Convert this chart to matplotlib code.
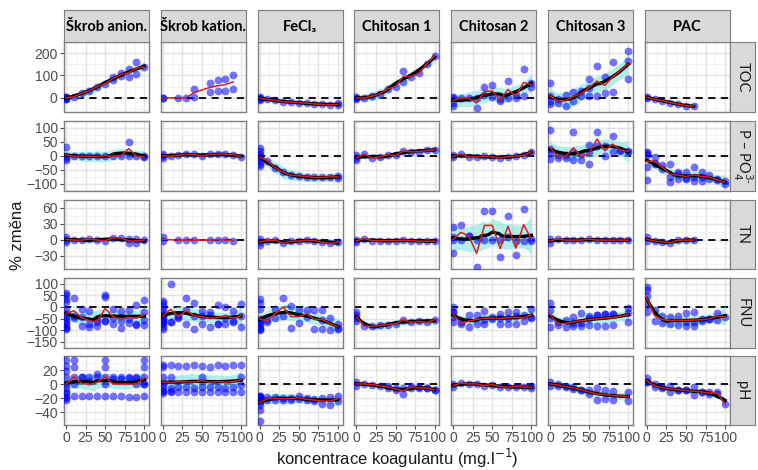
import numpy as np
import matplotlib
matplotlib.use("Agg")
import matplotlib.pyplot as plt

# concentration levels (mg/l), every panel uses the same grid
levels = [0, 10, 20, 30, 40, 50, 60, 70, 80, 90, 100]

coagulants = ["Škrob anion.", "Škrob kation.", "FeCl₃", "Chitosan 1",
              "Chitosan 2", "Chitosan 3", "PAC"]
params = ["TOC", r"P – PO$_4^{3\text{-}}$", "TN", "FNU", "pH"]

# % change values, one list per concentration level
toc = {
    "Škrob anion.": [[0, -5, 4, -8, 5], [4], [20], [32], [50], [62], [95, 78],
                     [112, 96], [130, 93], [158, 108], [138]],
    "Škrob kation.": [[0, -3], [], [0], [0], [41, 5], [], [66, 26], [78, 29],
                      [85, 32], [103, 40], []],
    "FeCl₃": [[5, -5, 0, -10], [-8], [-12], [-18], [-20], [-22], [-25], [-28],
              [-30], [-32], [-35, -25]],
    "Chitosan 1": [[0, -5, 5], [-2], [7], [17], [40], [50], [120, 72], [94],
                   [109], [152], [188]],
    "Chitosan 2": [[0, -22, -36, 5], [0], [-3], [-48, 0], [46, 10], [55, 5],
                   [-14, -8], [77, -3], [0, 10], [130, 7], [65, 50]],
    "Chitosan 3": [[65, 7, -14, -29], [-22, -5], [-36, 10], [26, -14], [7, 30],
                   [84, 45, 9], [142, 7], [91, 19], [160, 26], [], [208, 165, 82]],
    "PAC": [[0, 3], [-7], [-14], [-22], [-29], [-36], [-38], [], [], [], []],
}

p_po4 = {
    "Škrob anion.": [[33, 0, -14, -7], [-2], [-2], [-2], [-2], [0], [-2], [-1],
                     [51, 0], [-2], [-2, -6]],
    "Škrob kation.": [[8, -8, 0], [-2], [2], [5], [5], [-2], [5], [6], [6], [4], [-4]],
    "FeCl₃": [[28, 18, 8, 0, -8, -18, -28, -36], [-18], [-43], [-59], [-70], [-72],
              [-75], [-78], [-78], [-76], [-73, -80]],
    "Chitosan 1": [[1, -8, -15], [6], [-8], [-4], [3], [1], [17], [14], [15], [19], [22]],
    "Chitosan 2": [[1, -4], [6], [-4], [-4], [-1], [-4], [-8], [-4], [-1], [1], [14]],
    "Chitosan 3": [[93, 24, 10, -12], [-8, 2], [-9, 3], [86, -14, 15], [-14, 8],
                   [-31, 40, 15], [84, 36], [0, 36], [70, 14], [18, 22], [18, 14]],
    "PAC": [[2, -41, -87, 15, 10], [-3, -25, -30], [-47, -35], [-96, -75, -30],
            [-64, -85, -60], [-59, -85, -80], [-41, -75, -90], [-59, -75, -90],
            [-69, -85], [-85, -88], [-91, -100]],
}

tn = {
    "Škrob anion.": [[5, 0, -4], [-1], [-1], [1], [-1], [-2], [3], [3], [1, -6],
                     [1, -6], [-1]],
    "Škrob kation.": [[4, -3], [], [-1], [-1], [-1], [], [-1], [0], [-1], [-2], []],
    "FeCl₃": [[1, -4, -10], [-2], [-1], [-7], [-3], [-3], [-1], [-2], [-5], [-7], [-5]],
    "Chitosan 1": [[0, -5], [2], [-2], [-2], [-2], [-2], [-1], [-2], [-3], [-3], [-3]],
    "Chitosan 2": [[23, 0, -26, 5], [27, 0], [7, 7], [-52, 0], [53, 0], [53, 0],
                   [-33, -1], [45, 5], [-29, -3], [58, -2], [2, -2]],
    "Chitosan 3": [[1, -6], [1], [-1], [-1], [-1], [1], [-1], [-1], [-1], [-1], [-1]],
    "PAC": [[4, -2], [-3], [-4], [-6], [-1], [-1], [-1], [], [], [], []],
}

fnu = {
    "Škrob anion.": [[60, 50, 35, 20, -10, -30, -45, -55, -65, -75, -85, -90, -95],
                     [38, -46, -40], [-10, -84, -45], [-73, -16, -88], [-84, -50, -64],
                     [53, 44, -59, -62], [-8, -46, -72], [-90, -16, -60],
                     [-14, -71, -50], [9, -73, -80], [28, -23, -80, -57]],
    "Škrob kation.": [[25, 15, 5, -10, -25, -40, -55, -65, -75, -85, -93, -60, -50, -35],
                      [100, -66, -64], [-42, -35, -49], [37, -73, -12], [18, -93, -39],
                      [-16, -73, -37], [-23, -86, -35], [9, -73, -74], [0, -73, -47],
                      [-16, -66, -62], [13, -86, -41]],
    "FeCl₃": [[34, 15, -10, -54, -96, -100, -80, -70, -60, -90], [-67, -55],
              [-10, -48], [38, -38], [6, -90], [-71, -13], [-13, -45], [-93, -15],
              [-13, -93, -56], [-99, -47], [-73, -96, -89]],
    "Chitosan 1": [[-23, -35, -48, -62], [-82], [-84], [-80], [-76], [-73], [-55],
                   [-67], [-62], [-67], [-55]],
    "Chitosan 2": [[-1, -23, -42, -67, -20], [-67, -75], [-35, -87], [-73, -35],
                   [-16, -73, -55], [-54, -42], [-74, -46, -30], [-74, -46, -20],
                   [-74, -39, -20], [-61, -33], [-10, -46, -45]],
    "Chitosan 3": [[15, -13, -46, -88], [-80, -66], [-86, -56], [-84, -42, -69],
                   [-25, -84, -68], [-38, -80, -47], [-33, -84, -36], [-29, -84, -31],
                   [-29, -80, -29], [], [-4, -67, -28]],
    "PAC": [[85, 72, 47, -23, 10], [-61, -15], [-40, -70], [-42, -74], [-38, -76],
            [-25, -84, -65], [-21, -84, -65], [-50, -60], [-52, -50], [-25, -55], [-42]],
}

ph = {
    "Škrob anion.": [[35, 26, 19, 10, 0, -5, -11, -18, -22, -20, -12], [35, 25, 10, -16, 0],
                     [10, -16, 10], [10, -16, 5], [10, -16, 15], [35, 25, 10, 0, -16],
                     [10, -17, 8], [10, -17, 8], [10, -18, 9], [10, 0, -18, 9],
                     [35, 25, 10, 0, -16, 0]],
    "Škrob kation.": [[27, 24, 10, 0, -4, -9, -13, -10], [27, 10, -9, -11, -5],
                      [26, -4, -11], [26, -4, -11], [27, -6, -11], [26, 10, -4, -11],
                      [24, -4, -11], [27, -4, -11], [26, -6, -11], [27, -4, -11],
                      [27, 10, -1, -11]],
    "FeCl₃": [[-16, -20, -25, -30, -37, -53, -16, -18, -20], [-18, -23], [-18, -22],
              [-19, -22], [-19, -22], [-17, -21], [-20, -23], [-21, -24], [-20, -28],
              [-18, -30], [-17, -24]],
    "Chitosan 1": [[3, -2], [0.5], [-0.5], [-2], [-5, -3], [-5, -8], [-14.5, -5],
                   [-5, -3], [-4, -6], [-5, -6], [-8, -8]],
    "Chitosan 2": [[0.5, -4], [1.4], [0.5], [0.5], [-2], [-0.5], [-3.3], [-4], [-3.3],
                   [-4], [-2, -6]],
    "Chitosan 3": [[3, -2], [0.5, -2.5], [-4, -3], [-6.5, -4], [-8, -8], [-13.5, -8.5],
                   [-23, -5], [-20.5, -8], [-23, -9], [], [-11, -24]],
    "PAC": [[9.5, 2.8, 3], [0.5, -4.5], [-4.2, -6], [-2, -11], [-8, -8], [-8.8, -8.8],
            [-4, -15.9], [-11, -11], [-11.2, -13.8], [-14.5, -10.5], [-28.4]],
}

rows = [toc, p_po4, tn, fnu, ph]
ylims = [(-62, 239), (-124, 103), (-55, 63), (-151, 112), (-58, 41)]
yticks = [[0, 100, 200], [-100, -50, 0, 50, 100], [-30, 0, 30, 60],
          [-150, -100, -50, 0, 50, 100], [-40, -20, 0, 20]]
# panels where the smoother did not come out
no_smooth = {(0, 1), (2, 1)}


def loess(x, y, grid, span=0.75):
    # local quadratic fit with tricube weights, like geom_smooth(method="loess")
    n = len(x)
    q = max(int(np.floor(n * span)), 3)

    def weights_row(x0):
        d = np.abs(x - x0)
        h = np.sort(d)[q - 1]
        h = max(h, 1e-9) * 1.0001
        w = np.clip(1 - (d / h) ** 3, 0, None) ** 3
        X = np.column_stack([np.ones(n), x - x0, (x - x0) ** 2])
        XtW = X.T * w
        A = XtW @ X
        return np.linalg.pinv(A)[0] @ XtW

    L = np.array([weights_row(xi) for xi in x])
    res = y - L @ y
    IL = np.eye(n) - L
    delta1 = np.trace(IL.T @ IL)
    sigma2 = np.sum(res ** 2) / max(delta1, 1)
    Lg = np.array([weights_row(g) for g in grid])
    fit = Lg @ y
    se = np.sqrt(sigma2 * np.sum(Lg ** 2, axis=1))
    return fit, se


W, H = 758, 470
fig = plt.figure(figsize=(W / 100, H / 100), dpi=100)

col_left = [64 + 96.8 * c for c in range(7)]
row_top = [42, 121, 199.5, 278, 355.5]
pw, ph_ = 85, 69.5

tick_color = "#4D4D4D"
border = "#7F7F7F"

for r, data in enumerate(rows):
    for c, name in enumerate(coagulants):
        ax = fig.add_axes([col_left[c] / W, 1 - (row_top[r] + ph_) / H, pw / W, ph_ / H])
        xs, ys = [], []
        mx, my = [], []
        for lev, vals in zip(levels, data[name]):
            if vals:
                xs += [lev] * len(vals)
                ys += vals
                mx.append(lev)
                my.append(np.mean(vals))
        xs = np.array(xs, float)
        ys = np.array(ys, float)

        ax.axhline(0, color="black", lw=1.3, ls=(0, (4, 3)), zorder=2)
        ax.scatter(xs, ys, s=32, color="#0000FF", alpha=0.55, lw=0, zorder=3)
        if (r, c) not in no_smooth:
            grid = np.linspace(xs.min(), xs.max(), 80)
            fit, se = loess(xs, ys, grid)
            ax.fill_between(grid, fit - 2 * se, fit + 2 * se, color="#7FE5E0",
                            alpha=0.6, lw=0, zorder=2.5)
            ax.plot(grid, fit, color="black", lw=2.4, zorder=4)
        ax.plot(mx, my, color="#D42020", lw=1.1, zorder=5)

        ax.set_xlim(-2.5, 106)
        ax.set_ylim(*ylims[r])
        ax.set_xticks([0, 25, 50, 75, 100])
        ax.set_xticks([12.5, 37.5, 62.5, 87.5], minor=True)
        yt = yticks[r]
        ax.set_yticks(yt)
        step = yt[1] - yt[0]
        ax.set_yticks([v + step / 2 for v in [yt[0] - step] + yt], minor=True)
        ax.grid(True, which="major", color="#E3E3E3", lw=1.0, zorder=0)
        ax.grid(True, which="minor", color="#EFEFEF", lw=0.6, zorder=0)
        ax.set_axisbelow(True)
        for s in ax.spines.values():
            s.set_color(border)
            s.set_linewidth(1.0)
        ax.tick_params(which="minor", length=0)
        ax.tick_params(which="major", color=tick_color, length=3, width=0.8,
                       labelcolor=tick_color, labelsize=10, pad=1.5)
        if c != 0:
            ax.tick_params(axis="y", length=0, labelleft=False)
        if r != 4:
            ax.tick_params(axis="x", length=0, labelbottom=False)
        for lab in ax.get_xticklabels() + ax.get_yticklabels():
            lab.set_fontfamily("Liberation Sans")

        # column strip
        if r == 0:
            sax = fig.add_axes([col_left[c] / W, 1 - 42 / H, pw / W, 32 / H])
            sax.set_facecolor("#D9D9D9")
            sax.set_xticks([])
            sax.set_yticks([])
            for s in sax.spines.values():
                s.set_color(border)
            sax.text(0.5, 0.48, name, ha="center", va="center", fontsize=10.5,
                     fontweight="bold", family=["Lato", "DejaVu Sans"],
                     transform=sax.transAxes)
        # row strip
        if c == 6:
            rax = fig.add_axes([(col_left[c] + pw) / W, 1 - (row_top[r] + ph_) / H,
                                25 / W, ph_ / H])
            rax.set_facecolor("#D9D9D9")
            rax.set_xticks([])
            rax.set_yticks([])
            for s in rax.spines.values():
                s.set_color(border)
            rax.text(0.5, 0.5, params[r], ha="center", va="center", rotation=-90,
                     fontsize=10.5, color="#1A1A1A", family=["Lato", "DejaVu Sans"],
                     transform=rax.transAxes)

fig.text(17 / W, 1 - 235 / H, "% změna", rotation=90, ha="center", va="center",
         fontsize=12, family="Liberation Sans", color="#1A1A1A")
fig.text(397 / W, 1 - 458 / H, r"koncentrace koagulantu (mg.l$^{-1}$)", ha="center",
         va="center", fontsize=12, family="Liberation Sans", color="#1A1A1A")

fig.savefig("out.png", dpi=100)
